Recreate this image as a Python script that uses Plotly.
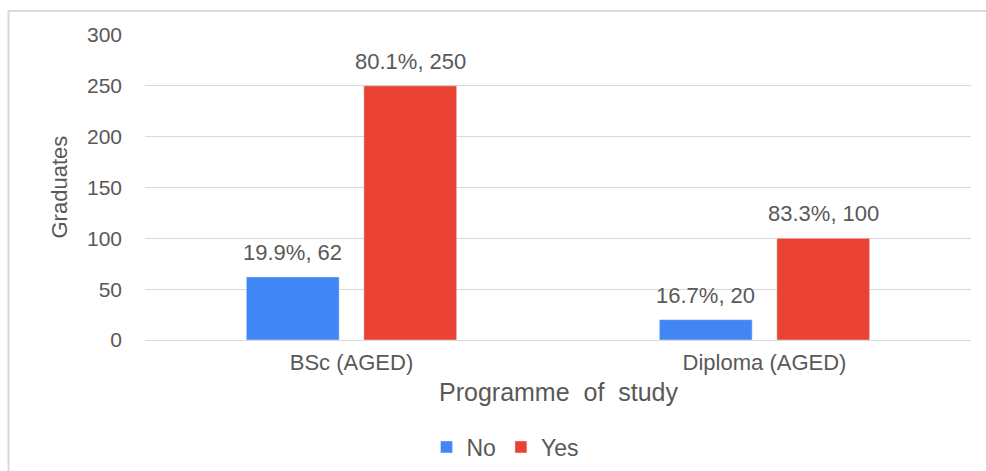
import plotly.graph_objects as go

programmes = ["BSc (AGED)", "Diploma (AGED)"]
no_counts = [62, 20]
yes_counts = [250, 100]
no_pct = [19.9, 16.7]
yes_pct = [80.1, 83.3]

W, H = 986, 471
M_L, M_R, M_T, M_B = 145, 15, 35, 131
BARGAP = 0.431
BARGROUPGAP = 0.21

TXT = "#595959"
FONT = "Liberation Sans, Arial, sans-serif"
BLUE = "#4285F4"
RED = "#EA4335"

fig = go.Figure()
fig.add_trace(go.Bar(name="No", x=programmes, y=no_counts, marker_color=BLUE))
fig.add_trace(go.Bar(name="Yes", x=programmes, y=yes_counts, marker_color=RED))

# value labels above each bar: "pct%, count"
plot_w = W - M_L - M_R
plot_h = H - M_T - M_B
slot = plot_w / len(programmes) * (1 - BARGAP) / 2
annotations = []
for series, pcts, shift in ((no_counts, no_pct, -slot / 2), (yes_counts, yes_pct, slot / 2)):
    for cat, val, pct in zip(programmes, series, pcts):
        annotations.append(dict(
            x=cat, y=val, xref="x", yref="y", xshift=shift, yshift=10,
            text=f"{pct}%, {val}", showarrow=False, yanchor="bottom",
            font=dict(family=FONT, size=22, color=TXT),
        ))

annotations.append(dict(
    x=0.5, y=-52 / plot_h, xref="paper", yref="paper",
    text="Programme  of  study", showarrow=False, yanchor="middle",
    font=dict(family=FONT, size=25, color=TXT),
))
annotations.append(dict(
    x=(59 - M_L) / plot_w, y=0.5, xref="paper", yref="paper",
    text="Graduates", showarrow=False, textangle=-90,
    xanchor="center", yanchor="middle",
    font=dict(family=FONT, size=22, color=TXT),
))

fig.update_layout(
    width=W, height=H,
    margin=dict(l=M_L, r=M_R, t=M_T, b=M_B, pad=0, autoexpand=False),
    paper_bgcolor="white", plot_bgcolor="white",
    barmode="group", bargap=BARGAP, bargroupgap=BARGROUPGAP,
    font=dict(family=FONT, color=TXT),
    annotations=annotations,
    legend=dict(
        orientation="h", x=(505 - M_L) / plot_w, xanchor="center",
        y=-107 / plot_h, yanchor="middle",
        font=dict(family=FONT, size=23, color=TXT),
        itemwidth=30, tracegroupgap=0,
    ),
    shapes=[dict(
        type="rect", xref="paper", yref="paper",
        x0=(8.5 - M_L) / plot_w, x1=(1012 - M_L) / plot_w,
        y0=-(480 - (H - M_B)) / plot_h, y1=(H - M_B - 11) / plot_h,
        line=dict(color="#d9d9d9", width=2), fillcolor="rgba(0,0,0,0)",
        layer="below",
    )],
)
fig.update_xaxes(
    showgrid=False, showline=False, ticks="",
    tickfont=dict(family=FONT, size=22, color=TXT),
    ticklabelstandoff=7,
)
fig.update_yaxes(
    range=[0, 300], dtick=50, showgrid=True, gridcolor="#d9d9d9", gridwidth=1,
    zeroline=True, zerolinecolor="#d9d9d9", zerolinewidth=1,
    showline=False, ticks="",
    tickfont=dict(family=FONT, size=21, color=TXT),
    ticklabelstandoff=22,
)

fig.write_html("out.html")
